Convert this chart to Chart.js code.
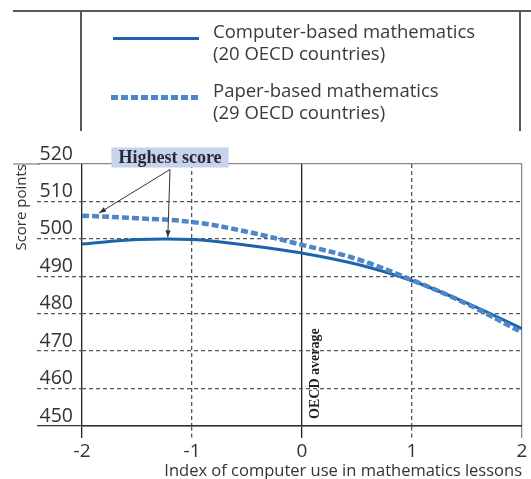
<!DOCTYPE html>
<html><head><meta charset="utf-8">
<script src="https://cdn.jsdelivr.net/npm/chart.js@4/dist/chart.umd.min.js"></script>
<style>
html,body{margin:0;padding:0;background:#fff;}
#wrap{position:relative;width:531px;height:479px;overflow:hidden;font-family:"Open Sans",sans-serif;color:#3a3a3a;}
#c{position:absolute;left:0;top:0;}
.ln{position:absolute;background:#5a5a5a;}
.lg{position:absolute;left:213px;font-size:18.5px;line-height:22px;white-space:nowrap;}
</style></head><body>
<div id="wrap">
<canvas id="c" width="531" height="479"></canvas>
<div class="ln" style="left:13px;top:10px;width:518px;height:1.5px"></div>
<div class="ln" style="left:80px;top:10px;width:1.5px;height:121px"></div>
<div class="ln" style="left:519px;top:10px;width:1.5px;height:121px"></div>
<div style="position:absolute;left:113px;top:36.5px;width:86px;height:3px;background:#1a64ad"></div>
<div style="position:absolute;left:111px;top:94.5px;width:90px;height:5px;background:repeating-linear-gradient(90deg,#4d87c7 0 7px,transparent 7px 10px)"></div>
<div class="lg" style="top:20px">Computer-based mathematics<br>(20 OECD countries)</div>
<div class="lg" style="top:79px">Paper-based mathematics<br>(29 OECD countries)</div>
</div>
<script>
// ---- data ----
const xValues       = [-2, -1.5, -1, -0.5, 0, 0.5, 1, 1.5, 2];
const computerBased = [498.6, 499.8, 499.8, 498.3, 496.2, 493.2, 488.8, 482.8, 476.0];
const paperBased    = [506.2, 505.5, 504.5, 501.9, 498.4, 494.6, 489.0, 482.6, 475.0];
const xTicks = [-2, -1, 0, 1, 2];
const yTicks = [450, 460, 470, 480, 490, 500, 510, 520];
const seriesNames = ['Computer-based mathematics', 'Paper-based mathematics'];
const xTitle = 'Index of computer use in mathematics lessons';
const yTitle = 'Score points';
const oecdLabel = 'OECD average';
const highestLabel = 'Highest score';

const toPts = arr => arr.map((v, i) => ({x: xValues[i], y: v}));

const dashY = c => (c.tick && c.tick.value > 450 && c.tick.value < 520) ? [4, 3] : [];
const colY  = c => !c.tick ? '#333' : c.tick.value === 520 ? '#8a8a8a' : c.tick.value === 450 ? '#333' : '#555';
const dashX = c => (c.tick && (c.tick.value === -1 || c.tick.value === 1)) ? [4, 3] : [];
const colX  = c => !c.tick ? '#333' : (c.tick.value === -2 || c.tick.value === 0) ? '#222' : c.tick.value === 2 ? '#8a8a8a' : '#555';

function arrow(ctx, x1, y1, x2, y2) {
  ctx.beginPath(); ctx.moveTo(x1, y1); ctx.lineTo(x2, y2); ctx.stroke();
  const a = Math.atan2(y2 - y1, x2 - x1), L = 7, W = 2.6;
  ctx.beginPath();
  ctx.moveTo(x2, y2);
  ctx.lineTo(x2 - L * Math.cos(a) + W * Math.sin(a), y2 - L * Math.sin(a) - W * Math.cos(a));
  ctx.lineTo(x2 - L * Math.cos(a) - W * Math.sin(a), y2 - L * Math.sin(a) + W * Math.cos(a));
  ctx.closePath(); ctx.fill();
}

const notes = {
  id: 'notes',
  afterDatasetsDraw(chart) {
    const {ctx, scales: {x, y}} = chart;
    ctx.save();
    // extension of top frame line
    const yTop = y.getPixelForValue(520);
    ctx.strokeStyle = '#8a8a8a'; ctx.lineWidth = 1.3;
    ctx.beginPath(); ctx.moveTo(13, yTop); ctx.lineTo(40, yTop); ctx.stroke();

    // OECD average label
    ctx.save();
    ctx.translate(x.getPixelForValue(0) + 12, y.getPixelForValue(464));
    ctx.rotate(-Math.PI / 2);
    ctx.font = 'bold 14px "Liberation Serif"';
    ctx.fillStyle = '#222'; ctx.textAlign = 'center'; ctx.textBaseline = 'middle';
    ctx.fillText(oecdLabel, 0, 1);
    ctx.restore();

    // Highest score callout
    const bx = x.getPixelForValue(-1.2), by = yTop - 6.5;
    ctx.fillStyle = '#333'; ctx.strokeStyle = '#333'; ctx.lineWidth = 1;
    arrow(ctx, bx, by + 12, x.getPixelForValue(-1.845), y.getPixelForValue(506.9));
    arrow(ctx, bx, by + 12, x.getPixelForValue(-1.22), y.getPixelForValue(500.4));
    ctx.font = 'bold 18px "Liberation Serif"';
    const w = ctx.measureText(highestLabel).width + 14;
    ctx.fillStyle = '#c6d3ee';
    ctx.fillRect(bx - w / 2, by - 10, w, 20);
    ctx.fillStyle = '#2a2a33'; ctx.textAlign = 'center'; ctx.textBaseline = 'middle';
    ctx.fillText(highestLabel, bx, by + 1);
    ctx.restore();
  }
};

new Chart(document.getElementById('c'), {
  type: 'line',
  data: {
    datasets: [
      {label: seriesNames[1], data: toPts(paperBased), borderColor: '#4d87c7', borderWidth: 4.5,
       borderDash: [7, 3], pointRadius: 0, tension: 0.4, fill: false, order: 0},
      {label: seriesNames[0], data: toPts(computerBased), borderColor: '#1a64ad', borderWidth: 3,
       pointRadius: 0, tension: 0.4, fill: false, order: 1}
    ]
  },
  options: {
    responsive: false, animation: false,
    layout: {padding: {top: 164, right: 9, bottom: 0, left: 4}},
    plugins: {legend: {display: false}, tooltip: {enabled: false}},
    scales: {
      x: {
        type: 'linear', min: -2, max: 2,
        afterBuildTicks: s => { s.ticks = xTicks.map(v => ({value: v})); },
        afterFit: s => { s.height = 53; },
        ticks: {font: {family: 'Open Sans', size: 19}, color: '#333', padding: 2,
                callback: v => String(v), maxRotation: 0, autoSkip: false},
        grid: {color: colX, lineWidth: 1.3, tickLength: 12, tickColor: colX, tickBorderDash: dashX},
        border: {display: true, color: '#333', width: 1.5, dash: dashX},
        title: {display: true, text: xTitle, align: 'end', color: '#333',
                font: {family: 'Open Sans', size: 16.5}, padding: {top: 0, bottom: -2}}
      },
      y: {
        type: 'linear', min: 450, max: 520,
        afterBuildTicks: s => { s.ticks = yTicks.map(v => ({value: v})); },
        afterFit: s => { s.width = 78; },
        ticks: {font: {family: 'Open Sans', size: 19.5}, color: '#333', padding: -36, labelOffset: -10,
                callback: v => String(v), autoSkip: false},
        grid: {color: colY, lineWidth: 1.3, tickLength: 45, tickColor: colY, tickBorderDash: dashY},
        border: {display: false, dash: dashY},
        title: {display: true, text: yTitle, align: 'end', color: '#333',
                font: {family: 'Open Sans', size: 15}, padding: {top: 9, bottom: 0}}
      }
    }
  },
  plugins: [notes]
});
</script>
</body></html>
